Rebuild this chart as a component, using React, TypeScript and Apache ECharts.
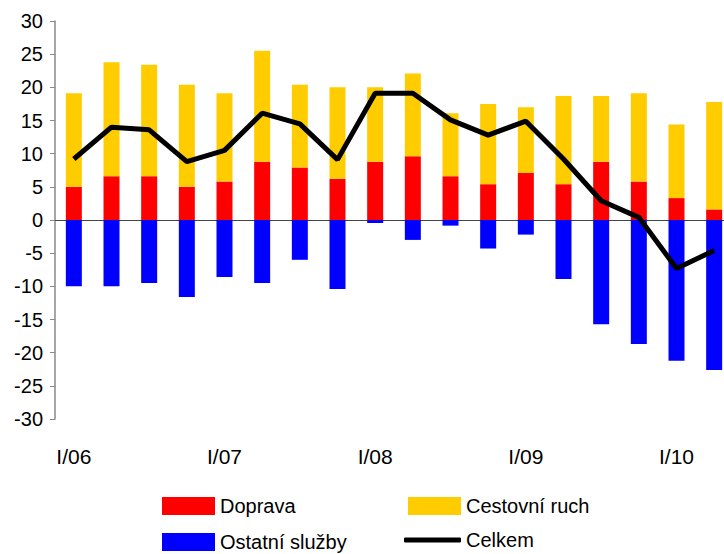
import React, { useEffect, useRef } from "react";
import * as echarts from "echarts";

const categories = [
  "I/06", "II/06", "III/06", "IV/06",
  "I/07", "II/07", "III/07", "IV/07",
  "I/08", "II/08", "III/08", "IV/08",
  "I/09", "II/09", "III/09", "IV/09",
  "I/10", "II/10",
];
const doprava = [5.0, 6.6, 6.6, 5.0, 5.8, 8.8, 7.9, 6.2, 8.8, 9.6, 6.6, 5.4, 7.1, 5.4, 8.8, 5.8, 3.3, 1.6];
const cestovniRuch = [14.1, 17.2, 16.8, 15.4, 13.3, 16.7, 12.5, 13.8, 11.2, 12.5, 9.5, 12.1, 9.9, 13.3, 9.9, 13.3, 11.1, 16.2];
const ostatniSluzby = [-10.0, -10.0, -9.5, -11.6, -8.6, -9.5, -6.0, -10.4, -0.45, -3.0, -0.85, -4.3, -2.2, -8.9, -15.7, -18.7, -21.2, -22.6];
const celkem = [9.2, 14.0, 13.6, 8.8, 10.5, 16.1, 14.5, 9.1, 19.1, 19.1, 15.1, 12.8, 14.9, 9.2, 2.9, 0.4, -7.3, -4.6];

const FONT = "'Liberation Sans', Arial, sans-serif";

const legendText = { fontFamily: FONT, fontSize: 20, color: "#000", lineHeight: 20 };

function legendItem(name: string, left: number, top: number, lineIcon: boolean) {
  return {
    left,
    top,
    padding: 0,
    orient: "horizontal",
    itemWidth: lineIcon ? 57 : 53,
    itemHeight: lineIcon ? 5 : 18,
    textStyle: legendText,
    data: [{ name, icon: lineIcon ? "roundRect" : "rect" }],
  };
}

export default function App() {
  const ref = useRef<HTMLDivElement>(null);
  useEffect(() => {
    if (!ref.current) return;
    const chart = echarts.init(ref.current, undefined, { renderer: "svg" });
    chart.setOption({
      animation: false,
      backgroundColor: "#ffffff",
      textStyle: { fontFamily: FONT, color: "#000" },
      grid: {
        left: 55,
        top: 21,
        width: 678,
        height: 398,
        containLabel: false,
        outerBoundsMode: "none",
      },
      legend: [
        legendItem("Doprava", 162, 496, false),
        legendItem("Ostatní služby", 162, 532, false),
        legendItem("Cestovní ruch", 408, 496, false),
        legendItem("Celkem", 404, 530, true),
      ],
      xAxis: [
        {
          type: "category",
          data: categories,
          axisLine: { onZero: true, lineStyle: { color: "#444", width: 1 } },
          axisTick: { show: false },
          axisLabel: { show: false },
          splitLine: { show: false },
        },
        {
          type: "category",
          data: categories,
          position: "bottom",
          axisLine: { show: false, onZero: false },
          axisTick: { show: false },
          axisLabel: {
            interval: 3,
            margin: 27,
            fontFamily: FONT,
            fontSize: 21,
            color: "#000",
          },
          splitLine: { show: false },
        },
      ],
      yAxis: {
        type: "value",
        min: -30,
        max: 30,
        interval: 5,
        axisLine: { show: true, lineStyle: { color: "#888", width: 1.5 } },
        axisTick: { show: true, inside: false, length: 5, lineStyle: { color: "#888" } },
        axisLabel: { margin: 12, fontFamily: FONT, fontSize: 20, color: "#000" },
        splitLine: { show: false },
      },
      series: [
        {
          name: "Doprava",
          type: "bar",
          stack: "total",
          xAxisIndex: 0,
          barWidth: 16,
          itemStyle: { color: "#FF0000" },
          data: doprava,
        },
        {
          name: "Cestovní ruch",
          type: "bar",
          stack: "total",
          xAxisIndex: 0,
          barWidth: 16,
          itemStyle: { color: "#FFCC00" },
          data: cestovniRuch,
        },
        {
          name: "Ostatní služby",
          type: "bar",
          stack: "total",
          xAxisIndex: 0,
          barWidth: 16,
          itemStyle: { color: "#0000FF" },
          data: ostatniSluzby,
        },
        {
          name: "Celkem",
          type: "line",
          xAxisIndex: 0,
          symbol: "none",
          z: 5,
          lineStyle: { color: "#000", width: 5 },
          itemStyle: { color: "#000" },
          data: celkem,
        },
      ],
    });
    return () => chart.dispose();
  }, []);
  return (
    <div
      ref={ref}
      style={{ position: "fixed", left: 0, top: 0, width: 724, height: 554 }}
    />
  );
}
